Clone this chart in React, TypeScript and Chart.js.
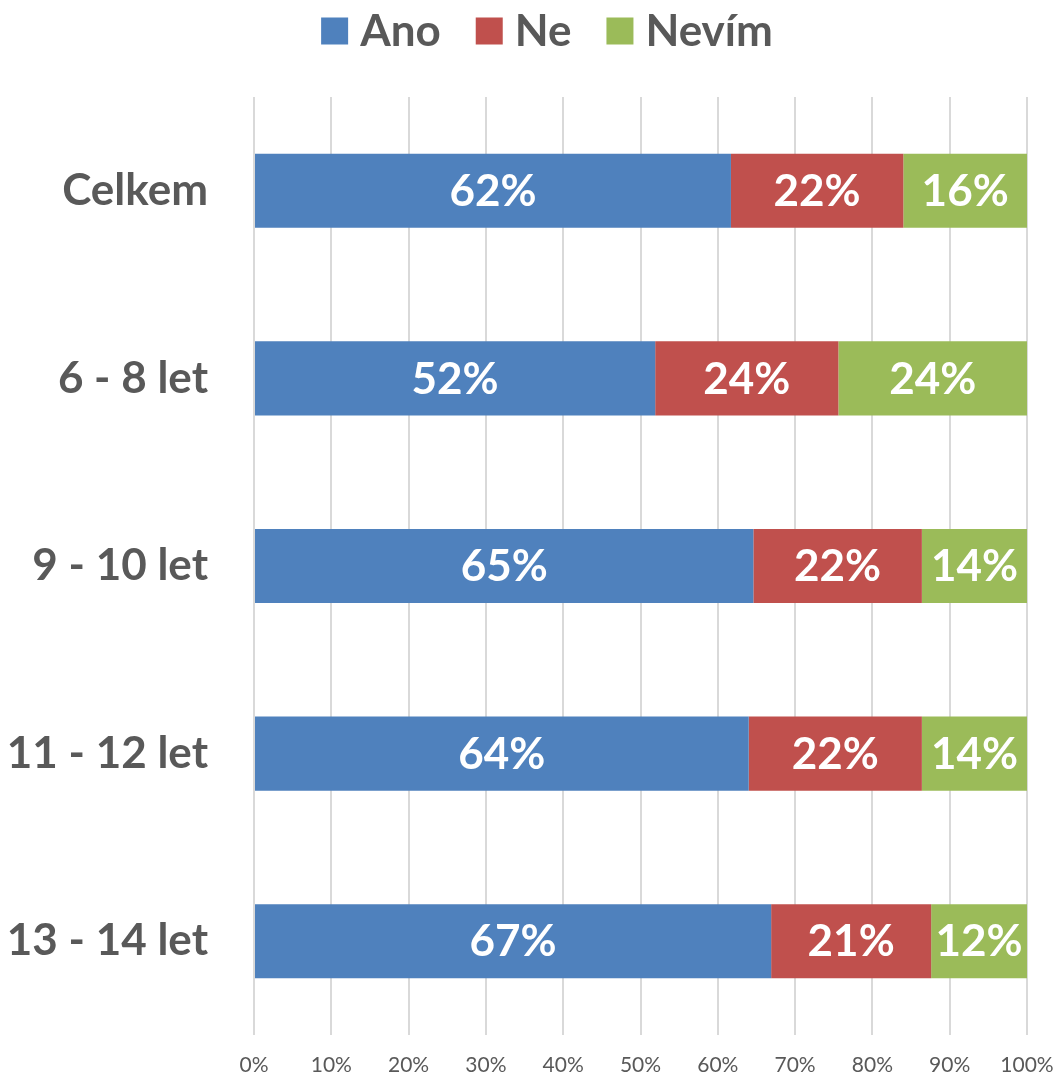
import React, { useEffect, useRef } from "react";
import { Chart, registerables } from "chart.js";

Chart.register(...registerables);

const categories = ["Celkem", "6 - 8 let", "9 - 10 let", "11 - 12 let", "13 - 14 let"];
const seriesNames = ["Ano", "Ne", "Nevím"];
const ano = [61.7, 51.9, 64.6, 64.0, 66.9];
const ne = [22.3, 23.7, 21.8, 22.4, 20.7];
const nevim = [16.0, 24.4, 13.6, 13.6, 12.4];
const colors = ["#4F81BD", "#C0504D", "#9BBB59"];
const xTickStep = 10;

const FONT = "Lato";
const TEXT = "#595959";

const legendPlugin = {
  id: "customLegend",
  afterDraw(chart: any) {
    const ctx = chart.ctx;
    ctx.save();
    ctx.font = `bold 44px ${FONT}`;
    ctx.textBaseline = "middle";
    const box = 27;
    const gap = 12;
    const itemGap = 35;
    const items = chart.data.datasets.map((d: any) => ({
      label: d.label,
      color: d.backgroundColor,
      w: ctx.measureText(d.label).width,
    }));
    const total =
      items.reduce((s: number, it: any) => s + box + gap + it.w, 0) + itemGap * (items.length - 1);
    let x = chart.width / 2 + 18 - total / 2;
    const cy = 31;
    for (const it of items) {
      ctx.fillStyle = it.color;
      ctx.fillRect(x, cy - box / 2, box, box);
      x += box + gap;
      ctx.fillStyle = TEXT;
      ctx.textAlign = "left";
      ctx.fillText(it.label, x, cy + 1);
      x += it.w + itemGap;
    }
    ctx.restore();
  },
};

const dataLabelPlugin = {
  id: "dataLabels",
  afterDatasetsDraw(chart: any) {
    const ctx = chart.ctx;
    ctx.save();
    ctx.font = `bold 44px ${FONT}`;
    ctx.fillStyle = "#FFFFFF";
    ctx.textAlign = "center";
    ctx.textBaseline = "middle";
    chart.data.datasets.forEach((ds: any, di: number) => {
      const meta = chart.getDatasetMeta(di);
      meta.data.forEach((bar: any, i: number) => {
        const v = ds.data[i];
        const cx = (bar.x + bar.base) / 2;
        ctx.fillText(Math.round(v) + "%", cx, bar.y + 1);
      });
    });
    ctx.restore();
  },
};

export default function App() {
  const ref = useRef<HTMLCanvasElement>(null);
  useEffect(() => {
    let chart: any = null;
    let cancelled = false;
    const make = () => {
      if (cancelled || !ref.current) return;
      chart = new Chart(ref.current, {
        type: "bar",
        data: {
          labels: categories,
          datasets: [ano, ne, nevim].map((d, i) => ({
            label: seriesNames[i],
            data: d,
            backgroundColor: colors[i],
            borderWidth: 0,
            categoryPercentage: 1,
            barPercentage: 0.395,
          })),
        },
        options: {
          indexAxis: "y",
          animation: false,
          responsive: false,
          maintainAspectRatio: false,
          layout: { padding: { top: 97, right: 31, bottom: 0, left: 0 } },
          plugins: { legend: { display: false }, tooltip: { enabled: false } },
          scales: {
            x: {
              stacked: true,
              min: 0,
              max: 100,
              ticks: {
                stepSize: xTickStep,
                callback: (v: any) => v + "%",
                color: TEXT,
                font: { family: FONT, size: 21 },
                padding: 18,
                maxRotation: 0,
              },
              grid: { color: "#D9D9D9", lineWidth: 2, drawTicks: false },
              border: { display: false },
              afterFit: (scale: any) => {
                scale.paddingLeft = 0;
                scale.paddingRight = 0;
                scale.height = 42;
              },
            },
            y: {
              stacked: true,
              ticks: {
                color: TEXT,
                font: { family: FONT, size: 44, weight: "bold" },
                padding: 46,
              },
              grid: { display: false, drawTicks: false },
              border: { display: false },
              afterFit: (scale: any) => {
                scale.width = 254;
                scale.paddingTop = 0;
                scale.paddingBottom = 0;
              },
            },
          },
        },
        plugins: [legendPlugin, dataLabelPlugin],
      } as any);
    };
    const fontsReady = (document as any).fonts
      ? Promise.all([
          (document as any).fonts.load(`bold 44px ${FONT}`),
          (document as any).fonts.load(`21px ${FONT}`),
        ]).catch(() => null)
      : Promise.resolve();
    fontsReady.then(make);
    return () => {
      cancelled = true;
      if (chart) chart.destroy();
    };
  }, []);
  return (
    <div style={{ position: "fixed", left: 0, top: 0, width: 1058, height: 1077, background: "#fff" }}>
      <canvas ref={ref} width={1058} height={1077} style={{ width: 1058, height: 1077 }} />
    </div>
  );
}
